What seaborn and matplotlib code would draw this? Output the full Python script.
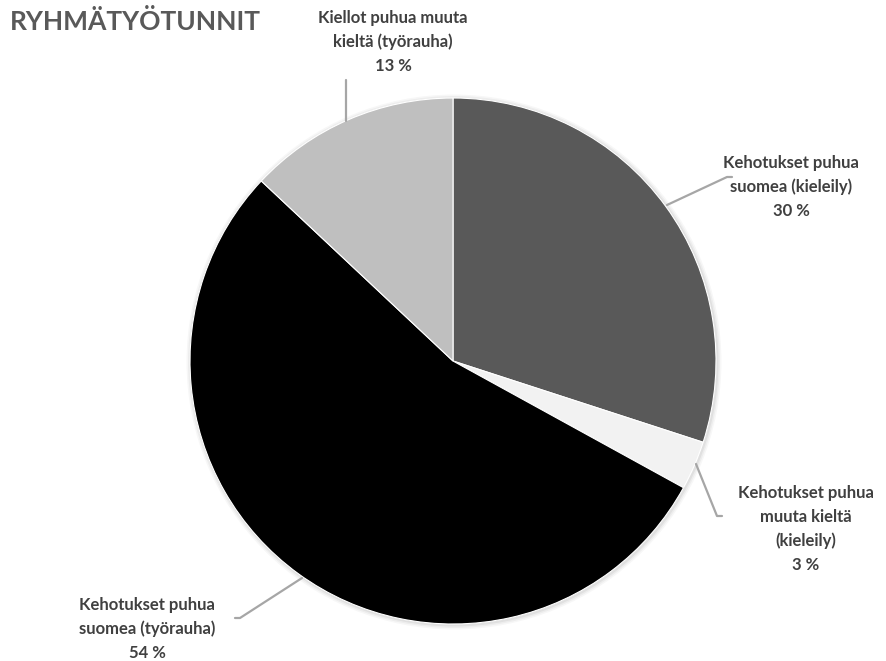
import matplotlib
matplotlib.use("Agg")
import matplotlib.pyplot as plt
import seaborn as sns

categories = ["Kehotukset puhua\nsuomea (kieleily)",
              "Kehotukset puhua\nmuuta kieltä\n(kieleily)",
              "Kehotukset puhua\nsuomea (työrauha)",
              "Kiellot puhua muuta\nkieltä (työrauha)"]
values = [30, 3, 54, 13]
colors = ["#595959", "#f2f2f2", "#000000", "#bfbfbf"]
title = "RYHMÄTYÖTUNNIT"

sns.set_theme(style="white")
plt.rcParams['font.family'] = ['Lato', 'DejaVu Sans']

W, H = 887, 661
fig = plt.figure(figsize=(W / 100, H / 100), dpi=100)
ax = fig.add_axes([0, 0, 1, 1])

def Y(y):
    return H - y

cx, cy, r = 453, 361, 263
# soft shadow
for i, a in enumerate([0.05, 0.04, 0.03]):
    ax.add_patch(plt.Circle((cx + 1, Y(cy) - 1), r + 1.5 + i * 1.5, color="black", alpha=a, lw=0, zorder=0))

ax.pie(values, colors=colors, startangle=90, counterclock=False,
       center=(cx, Y(cy)), radius=r, frame=True,
       wedgeprops=dict(edgecolor="white", linewidth=0.8))
ax.set_xlim(0, W)
ax.set_ylim(0, H)
ax.set_aspect("equal")
ax.axis("off")

line_c = "#a6a6a6"
leaders = [
    [(667, 205), (727, 177), (732, 177)],
    [(696, 464), (717, 516), (722, 516)],
    [(302, 578), (240, 618), (235, 618)],
    [(346, 121), (346, 80)],
]
for pts in leaders:
    ax.plot([p[0] for p in pts], [Y(p[1]) for p in pts], color=line_c, lw=1.6, zorder=3)

label_pos = [(791, 187), (806, 529), (147, 629), (393, 42)]
for cat, v, (lx, ly) in zip(categories, values, label_pos):
    ax.text(lx, Y(ly), f"{cat}\n{v} %", ha="center", va="center", multialignment="center",
            fontsize=12, fontweight="bold", color="#404040", linespacing=1.6)

ax.text(10, Y(21), title, ha="left", va="center", fontsize=19, fontweight="bold", color="#595959")

fig.savefig("out.png", dpi=100)
